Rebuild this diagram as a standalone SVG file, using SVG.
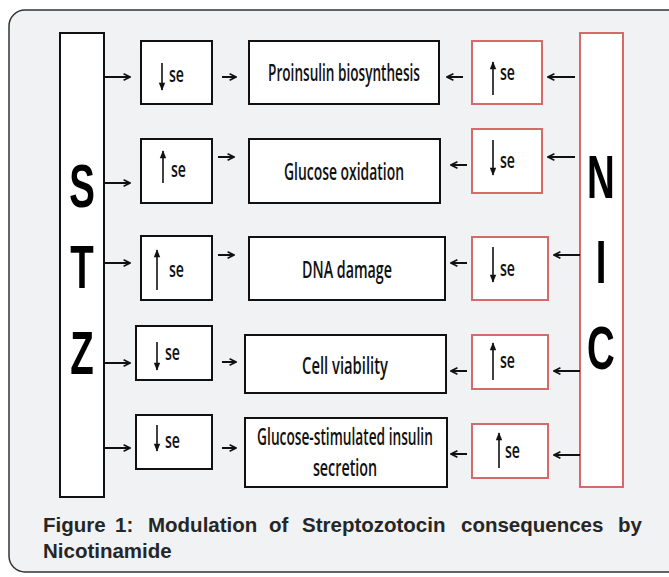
<svg xmlns="http://www.w3.org/2000/svg" width="669" height="577" viewBox="0 0 669 577">
<defs>
<style>
.bk{fill:#fff;stroke:#111;stroke-width:2}
.rd{fill:#fff;stroke:#d46a6a;stroke-width:2}
.c{stroke:#111;stroke-width:2;fill:none}
.v{stroke:#111;stroke-width:1.6;fill:none}
.t{font-family:"Open Sans","Liberation Sans",sans-serif;font-weight:600;font-size:23px;fill:#111;text-anchor:middle}
.se{font-family:"Open Sans","Liberation Sans",sans-serif;font-weight:600;font-size:22px;fill:#111}
.big{font-family:"Liberation Sans",sans-serif;font-weight:bold;font-size:62px;fill:#000;text-anchor:middle}
.cap{font-family:"Liberation Sans",Arial,sans-serif;font-weight:bold;font-size:20.5px;fill:#262626}
</style>
<marker id="ah" viewBox="0 0 10 10" refX="9" refY="5" markerWidth="4" markerHeight="4" orient="auto" markerUnits="strokeWidth">
<path d="M1,1 L9,5 L1,9" fill="none" stroke="#111" stroke-width="2"/>
</marker>
<marker id="vh" viewBox="0 0 10 10" refX="9" refY="5" markerWidth="6" markerHeight="5" orient="auto" markerUnits="strokeWidth">
<path d="M0,1 L10,5 L0,9 Z" fill="#111"/>
</marker>
</defs>
<rect x="0" y="0" width="669" height="577" fill="#fff"/>
<rect x="9" y="10" width="690" height="562" rx="16" fill="#f1f2f4" stroke="#333" stroke-width="1.5"/>

<g id="stz">
<rect class="bk" x="60" y="33" width="44" height="464"/>
<text class="big" transform="translate(82,207) scale(0.62,1)">S</text>
<text class="big" transform="translate(82,288) scale(0.62,1)">T</text>
<text class="big" transform="translate(82,374) scale(0.62,1)">Z</text>
</g>
<g id="nic">
<rect class="rd" x="580" y="33" width="43" height="454"/>
<text class="big" transform="translate(601,198) scale(0.62,1)">N</text>
<text class="big" transform="translate(601,283) scale(0.62,1)">I</text>
<text class="big" transform="translate(601,369) scale(0.62,1)">C</text>
</g>

<g id="l1"><rect class="bk" x="141" y="41" width="71" height="63"/><text class="se" x="169" y="82" textLength="15" lengthAdjust="spacingAndGlyphs">se</text></g>
<g id="l2"><rect class="bk" x="141" y="139" width="71" height="64"/><text class="se" x="171" y="177" textLength="15" lengthAdjust="spacingAndGlyphs">se</text></g>
<g id="l3"><rect class="bk" x="141" y="236" width="71" height="64"/><text class="se" x="169" y="277" textLength="15" lengthAdjust="spacingAndGlyphs">se</text></g>
<g id="l4"><rect class="bk" x="136" y="326" width="76" height="54"/><text class="se" x="165" y="360" textLength="15" lengthAdjust="spacingAndGlyphs">se</text></g>
<g id="l5"><rect class="bk" x="136" y="415" width="76" height="54"/><text class="se" x="165" y="448" textLength="15" lengthAdjust="spacingAndGlyphs">se</text></g>

<g id="m1"><rect class="bk" x="249" y="41" width="190" height="63"/><text class="t" transform="translate(344,81) scale(0.6,1)" textLength="253" lengthAdjust="spacingAndGlyphs">Proinsulin biosynthesis</text></g>
<g id="m2"><rect class="bk" x="249" y="139" width="191" height="64"/><text class="t" transform="translate(344,180) scale(0.6,1)" textLength="200" lengthAdjust="spacingAndGlyphs">Glucose oxidation</text></g>
<g id="m3"><rect class="bk" x="249" y="237" width="196" height="63"/><text class="t" transform="translate(347,278) scale(0.6,1)" textLength="150" lengthAdjust="spacingAndGlyphs">DNA damage</text></g>
<g id="m4"><rect class="bk" x="245" y="335" width="201" height="58"/><text class="t" transform="translate(345,374) scale(0.6,1)" textLength="143" lengthAdjust="spacingAndGlyphs">Cell  viability</text></g>
<g id="m5"><rect class="bk" x="245" y="418" width="202" height="69"/><text class="t" transform="translate(345,445) scale(0.6,1)" textLength="293" lengthAdjust="spacingAndGlyphs">Glucose-stimulated insulin</text><text class="t" transform="translate(345,476) scale(0.6,1)" textLength="107" lengthAdjust="spacingAndGlyphs">secretion</text></g>

<g id="r1"><rect class="rd" x="472" y="41" width="70" height="63"/><text class="se" x="500" y="80" textLength="15" lengthAdjust="spacingAndGlyphs">se</text></g>
<g id="r2"><rect class="rd" x="472" y="129" width="70" height="64"/><text class="se" x="500" y="168" textLength="15" lengthAdjust="spacingAndGlyphs">se</text></g>
<g id="r3"><rect class="rd" x="472" y="237" width="76" height="63"/><text class="se" x="500" y="276" textLength="15" lengthAdjust="spacingAndGlyphs">se</text></g>
<g id="r4"><rect class="rd" x="472" y="335" width="76" height="54"/><text class="se" x="500" y="368" textLength="15" lengthAdjust="spacingAndGlyphs">se</text></g>
<g id="r5"><rect class="rd" x="472" y="424" width="76" height="54"/><text class="se" x="505" y="458" textLength="15" lengthAdjust="spacingAndGlyphs">se</text></g>

<g id="connectors">
<g class="c" marker-end="url(#ah)">
<line x1="104" y1="77" x2="130" y2="77"/>
<line x1="104" y1="183" x2="130" y2="183"/>
<line x1="104" y1="263" x2="130" y2="263"/>
<line x1="104" y1="363" x2="130" y2="363"/>
<line x1="104" y1="448" x2="130" y2="448"/>
<line x1="222" y1="77" x2="236" y2="77"/>
<line x1="218" y1="157" x2="234" y2="157"/>
<line x1="218" y1="255" x2="234" y2="255"/>
<line x1="222" y1="362" x2="236" y2="362"/>
<line x1="222" y1="448" x2="236" y2="448"/>
<line x1="463" y1="77" x2="447" y2="77"/>
<line x1="467" y1="165" x2="451" y2="165"/>
<line x1="467" y1="263" x2="451" y2="263"/>
<line x1="467" y1="371" x2="451" y2="371"/>
<line x1="467" y1="454" x2="451" y2="454"/>
<line x1="575" y1="77" x2="548" y2="77"/>
<line x1="575" y1="157" x2="548" y2="157"/>
<line x1="580" y1="255" x2="554" y2="255"/>
<line x1="580" y1="371" x2="554" y2="371"/>
<line x1="580" y1="455" x2="554" y2="455"/>
</g>
<g class="v" marker-end="url(#vh)">
<line x1="162" y1="63" x2="162" y2="90"/>
<line x1="163" y1="183" x2="163" y2="151"/>
<line x1="157" y1="290" x2="157" y2="250"/>
<line x1="157" y1="342" x2="157" y2="370"/>
<line x1="157" y1="425" x2="157" y2="451"/>
<line x1="493" y1="95" x2="493" y2="62"/>
<line x1="493" y1="140" x2="493" y2="175"/>
<line x1="493" y1="247" x2="493" y2="282"/>
<line x1="493" y1="380" x2="493" y2="343"/>
<line x1="499" y1="468" x2="499" y2="433"/>
</g>
</g>

<text class="cap" y="532"><tspan x="43">Figure</tspan><tspan x="115">1:</tspan><tspan x="148">Modulation</tspan><tspan x="269">of</tspan><tspan x="302">Streptozotocin</tspan><tspan x="461">consequences</tspan><tspan x="618">by</tspan></text>
<text class="cap" x="43" y="558">Nicotinamide</text>
</svg>
